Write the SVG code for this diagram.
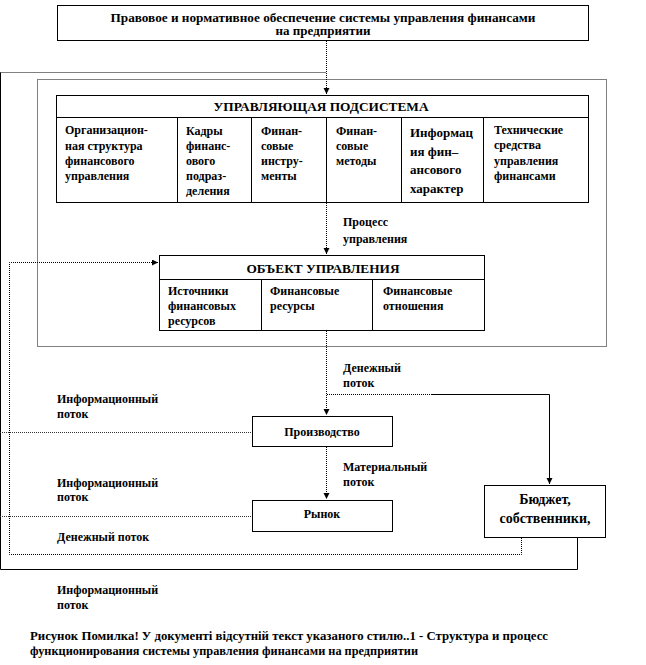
<svg xmlns="http://www.w3.org/2000/svg" width="646" height="665" viewBox="0 0 646 665">
<style>
text{font-family:"Liberation Serif","DejaVu Serif","Times New Roman",serif;font-weight:bold;font-size:12px;fill:#000}
.h{font-size:13px}
.b{font-size:14px}
.m{text-anchor:middle}
.s{stroke:#000;stroke-width:1;fill:none}
.d{stroke:#000;stroke-width:1;stroke-dasharray:1 1;fill:none}
.g{stroke:#333;stroke-width:1;stroke-dasharray:1 1;fill:none}
.box{fill:#fff;stroke:#000;stroke-width:1}
</style>
<defs>
<marker id="ar" markerUnits="userSpaceOnUse" markerWidth="7" markerHeight="7" refX="6" refY="3" orient="auto">
<path d="M0,0 L6,3 L0,6 z" fill="#000"/>
</marker>
</defs>
<rect width="646" height="665" fill="#fff"/>

<g id="connectors">
<path class="s" d="M577.5,538 V569.5 H0.5 V72.5"/>
<path class="d" d="M0.5,72.5 H326"/>
<rect class="d" x="37.5" y="79.5" width="569" height="267"/>
<path class="d" d="M326.5,41 V94" marker-end="url(#ar)"/>
<path class="d" d="M326.5,203 V254" marker-end="url(#ar)"/>
<path class="d" d="M326.5,331 V415" marker-end="url(#ar)"/>
<path class="d" d="M327,394.5 H432"/>
<path class="s" d="M432,394.5 H549.5 V484" marker-end="url(#ar)"/>
<path class="d" d="M326.5,447 V499" marker-end="url(#ar)"/>
<path class="d" d="M521.5,538 V554.5 H9.5 V262.5 H158" marker-end="url(#ar)"/>
<path class="g" d="M0,432.5 H252"/>
<path class="g" d="M0,516.5 H252"/>
</g>

<g id="legal">
<rect class="box" x="57.5" y="5.5" width="531" height="35"/>
<text class="m" x="323" y="22" textLength="425" lengthAdjust="spacingAndGlyphs">Правовое  и нормативное  обеспечение  системы управления  финансами</text>
<text class="m" x="323" y="35" textLength="95" lengthAdjust="spacingAndGlyphs">на предприятии</text>
</g>

<g id="management">
<rect class="box" x="56.5" y="95.5" width="532" height="107"/>
<path class="s" d="M56.5,117.5 H588.5 M177.5,117.5 V202.5 M251.5,117.5 V202.5 M326.5,117.5 V202.5 M401.5,117.5 V202.5 M483.5,117.5 V202.5"/>
<text class="h m" x="321" y="111" textLength="215" lengthAdjust="spacingAndGlyphs">УПРАВЛЯЮЩАЯ  ПОДСИСТЕМА</text>
<text x="65" y="134">Организацион-</text>
<text x="65" y="150">ная структура</text>
<text x="65" y="165">финансового</text>
<text x="65" y="180">управления</text>
<text x="186" y="135">Кадры</text>
<text x="186" y="150">финанс-</text>
<text x="186" y="165">ового</text>
<text x="186" y="180">подраз-</text>
<text x="186" y="195">деления</text>
<text x="261" y="135">Финан-</text>
<text x="261" y="150">совые</text>
<text x="261" y="165">инстру-</text>
<text x="261" y="180">менты</text>
<text x="336" y="135">Финан-</text>
<text x="336" y="150">совые</text>
<text x="336" y="165">методы</text>
<text class="h" x="410" y="137">Информац</text>
<text class="h" x="410" y="156">ия фин–</text>
<text class="h" x="410" y="174">ансового</text>
<text class="h" x="410" y="193">характер</text>
<text x="494" y="134">Технические</text>
<text x="494" y="149">средства</text>
<text x="494" y="165">управления</text>
<text x="494" y="180">финансами</text>
</g>

<text x="343" y="226">Процесс</text>
<text x="343" y="243">управления</text>

<g id="object">
<rect class="box" x="159.5" y="255.5" width="325" height="75"/>
<path class="s" d="M159.5,279.5 H484.5 M261.5,279.5 V330.5 M372.5,279.5 V330.5"/>
<text class="h m" x="323" y="273" textLength="153" lengthAdjust="spacingAndGlyphs">ОБЪЕКТ  УПРАВЛЕНИЯ</text>
<text x="168" y="295">Источники</text>
<text x="168" y="310">финансовых</text>
<text x="168" y="325">ресурсов</text>
<text x="270" y="295">Финансовые</text>
<text x="270" y="310">ресурсы</text>
<text x="383" y="295">Финансовые</text>
<text x="383" y="310">отношения</text>
</g>

<text x="343" y="372">Денежный</text>
<text x="343" y="387">поток</text>

<g id="production">
<rect class="box" x="252.5" y="416.5" width="140" height="30"/>
<text class="m" x="322" y="436">Производство</text>
</g>

<text x="343" y="471">Материальный</text>
<text x="343" y="486">поток</text>

<g id="market">
<rect class="box" x="252.5" y="500.5" width="140" height="31"/>
<text class="m" x="322" y="518">Рынок</text>
</g>

<g id="budget">
<rect class="box" x="484.5" y="485.5" width="121" height="52"/>
<text class="b m" x="545" y="504">Бюджет,</text>
<text class="b m" x="545" y="523">собственники,</text>
</g>

<text x="57" y="403">Информационный</text>
<text x="57" y="418">поток</text>
<text x="57" y="487">Информационный</text>
<text x="57" y="501">поток</text>
<text x="57" y="541">Денежный поток</text>
<text x="57" y="594">Информационный</text>
<text x="57" y="609">поток</text>

<text x="30" y="640" textLength="518" lengthAdjust="spacingAndGlyphs">Рисунок  Помилка! У документі відсутній  текст указаного стилю..1  - Структура  и процесс</text>
<text x="30" y="655" textLength="388" lengthAdjust="spacingAndGlyphs">функционирования  системы управления  финансами  на предприятии</text>
</svg>
